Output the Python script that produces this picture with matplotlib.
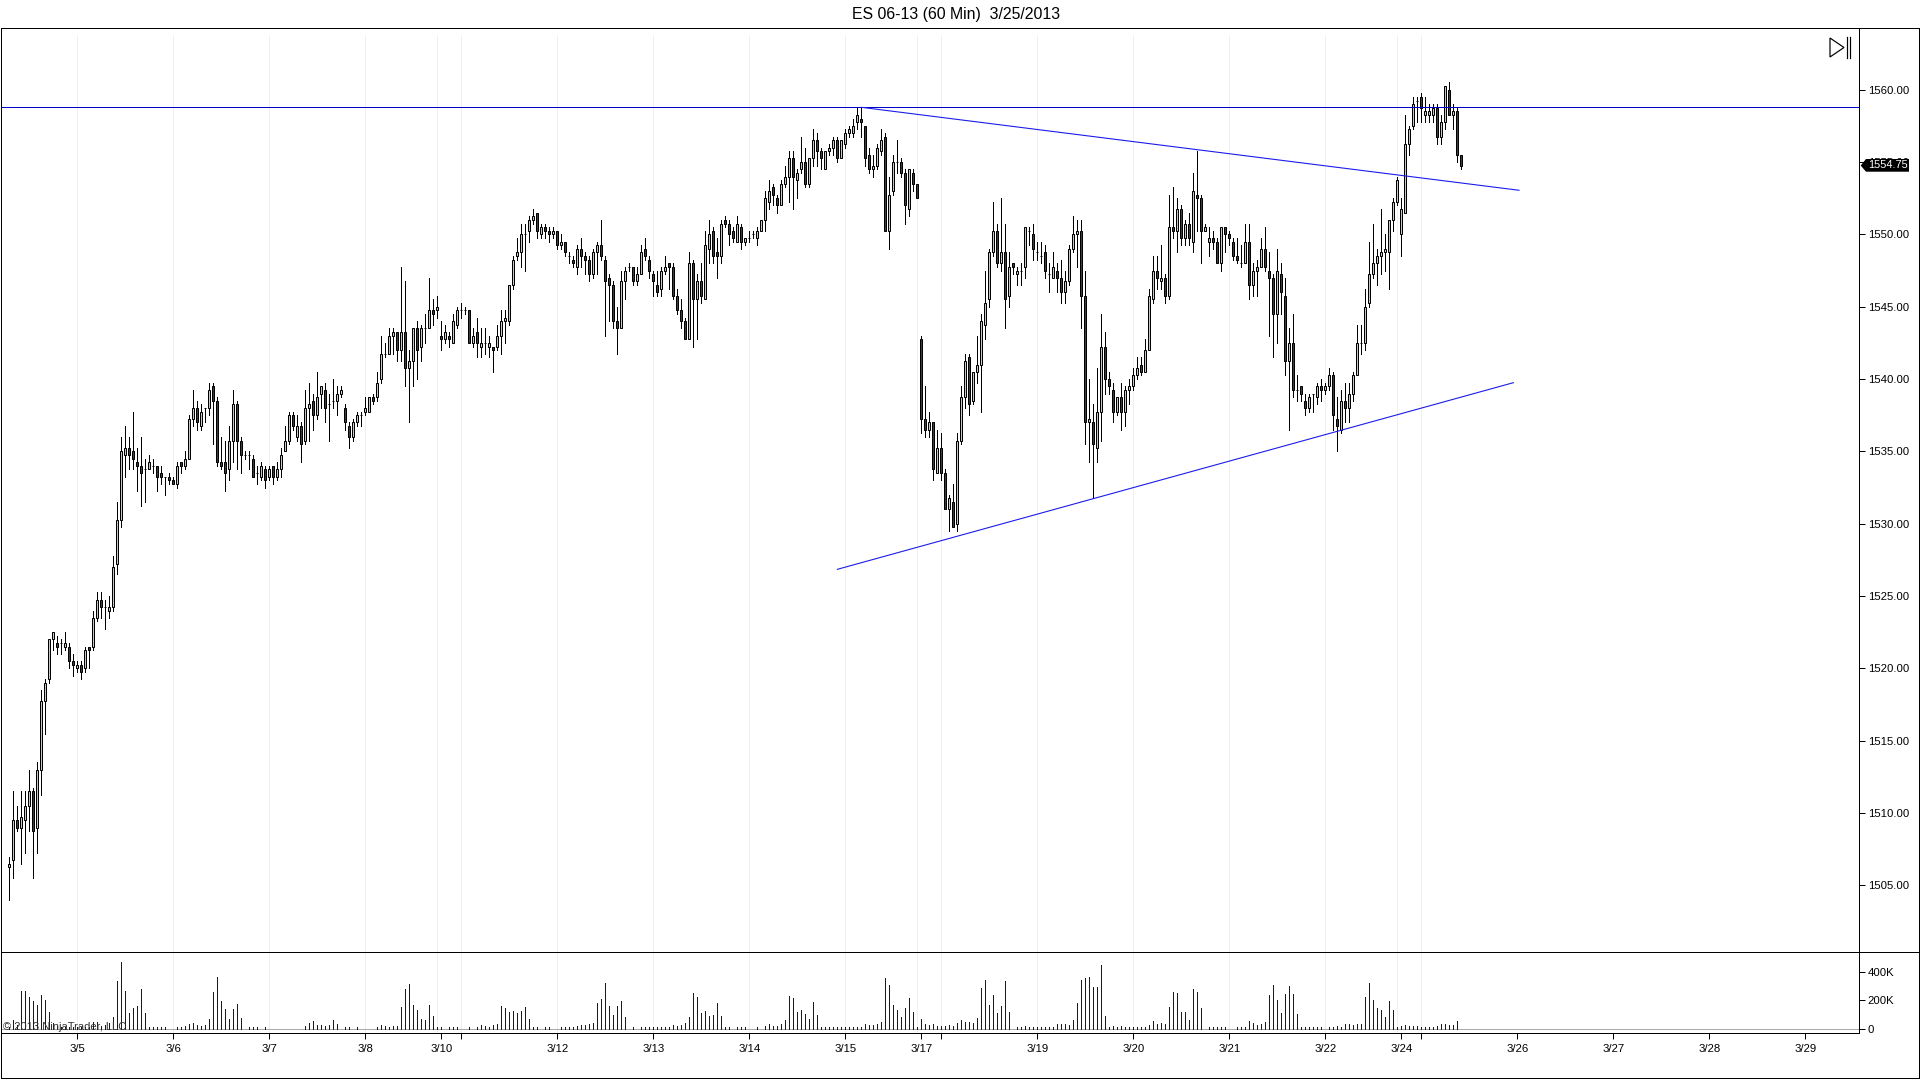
import numpy as np
import matplotlib
matplotlib.use('Agg')
import matplotlib.pyplot as plt
from matplotlib.lines import Line2D
from matplotlib.patches import Polygon

plt.rcParams['font.family'] = ['Liberation Sans', 'DejaVu Sans']

# 60 min bars of ES 06-13 (points)
opens = [
    1506.25,1506.75,1509.5,1509,1509.5,1510.5,1511.5,1509,1513,1517.75,1519.25,1522,
    1521.75,1521.75,1521.5,1521.5,1520.5,1520,1520.25,1520,1521.5,1521.5,1523.5,1524.75,
    1524.25,1524,1524.25,1527.25,1530.25,1534.75,1535.25,1535,1534.25,1534,1533.75,1533.75,
    1534,1534,1533.5,1533.25,1533.25,1533,1532.75,1534.25,1534,1534.5,1537.25,1538,
    1536.75,1538,1538,1539.5,1538.5,1534.25,1534.25,1533.75,1535.75,1538.25,1535.75,1534.75,
    1534.75,1534.5,1533.5,1533.25,1533.75,1533.25,1534,1533.25,1533.75,1535,1535.75,1537.5,
    1536,1536.75,1535.75,1538,1538.5,1537.5,1539,1539.25,1538.25,1538.5,1538.5,1539,
    1538,1536.75,1536,1537,1537.5,1537.75,1537.75,1538.75,1538.75,1540,1541.75,1541.75,
    1543,1543.25,1542,1543.25,1540.75,1541.25,1543.5,1542.25,1543.5,1543.5,1544.75,1544.75,
    1543,1542.75,1543,1542.5,1543.75,1544.75,1544.75,1544.75,1542.5,1543.25,1542.25,1542.5,
    1542.25,1542.25,1542.25,1543,1544,1544,1546.5,1548.5,1548.75,1550,1550.25,1551,
    1551.5,1550,1550.5,1550.25,1550,1550.25,1549.25,1549.5,1548.5,1548.25,1547.75,1549,
    1548.5,1548.25,1547.25,1548.75,1549.25,1548.25,1547,1546.5,1544,1543.5,1546.75,1547.75,
    1547.75,1546.75,1547.25,1549,1548.25,1547.25,1546.5,1546.25,1547.5,1548,1547.75,1545.75,
    1544.75,1544,1542.75,1548,1545.5,1546.75,1545.5,1549,1550.25,1548.75,1548.5,1551,
    1550.75,1550.25,1549.5,1550.5,1549.5,1549.75,1550,1549.75,1550.25,1551,1552.25,1553.25,
    1552.5,1552,1553.5,1554,1555.25,1553.75,1554.5,1555,1553.5,1555.25,1556.5,1555.75,
    1554.5,1555.75,1556,1556.5,1555.25,1556.25,1557,1557,1557.75,1558,1557.5,1555.5,
    1554.5,1554.75,1555.75,1556.75,1550.25,1553,1555,1555,1554.25,1551.75,1554.25,1553.5,
    1542.75,1537.25,1536.5,1537,1533.5,1535.25,1533.5,1531,1531.5,1530,1535.75,1538.75,
    1541.5,1538.5,1540.5,1541,1543.75,1545.5,1548.75,1550.25,1548,1548.75,1545.75,1548,
    1547.25,1547.5,1547.75,1550.25,1550,1548.75,1548.5,1548.75,1547.25,1547,1547.5,1547,
    1546,1546.75,1549,1550,1550.25,1545.75,1537,1537,1535.25,1537.75,1542.25,1540,
    1539.25,1537.75,1538.75,1537.75,1539.25,1539.5,1540.25,1541,1540.5,1542,1545.5,1547.5,
    1546.75,1547,1545.75,1550.5,1550.25,1551.75,1549.75,1550.75,1549.5,1552.75,1552.5,1550.25,
    1549.5,1549.75,1549.5,1548,1550.5,1550,1549.5,1548.5,1548,1548,1549.5,1546.5,
    1547.5,1547.75,1549,1547.5,1547,1544.5,1547.25,1545.75,1541.25,1542.5,1539.25,1539.5,
    1538.5,1538,1539,1538.75,1539.5,1539.25,1539.5,1540.25,1537.25,1536.5,1538.5,1538,
    1539,1540.25,1542.5,1542.5,1545.25,1547.25,1548,1548.5,1548.75,1548.75,1551,1552.25,
    1550,1551.5,1556.25,1557.5,1559.25,1559.5,1558.25,1558.25,1558.25,1558.75,1556.75,1557.75,
    1560,1558.25,1558.5,1555.5]
highs = [
    1507,1511.5,1510.5,1511.5,1511.5,1513,1511.75,1513.5,1518.5,1519.25,1522,1522.5,
    1522.25,1522,1522.5,1521.75,1521,1520.5,1520.5,1521.5,1521.5,1524,1525.25,1525.25,
    1524.75,1525,1527.75,1531.5,1536,1536.75,1536,1537.75,1535.25,1536,1534.5,1534.75,
    1534.5,1534,1534,1533.25,1533.5,1533.25,1534.25,1534.25,1535,1537.5,1539.25,1538.5,
    1538.25,1538,1539.75,1539.75,1538.75,1536,1535.75,1536.75,1539.25,1538.5,1536,1535,
    1535,1534.75,1534,1534.25,1534,1534,1534,1534.25,1535.25,1536.75,1537.75,1537.75,
    1537.5,1537,1539.25,1539.75,1539,1540.5,1539.5,1539.75,1539,1540,1539.5,1539.5,
    1538.25,1537,1537.25,1537.75,1537.75,1538.75,1538.75,1539,1540.5,1543,1542.5,1543.5,
    1543.5,1543.25,1547.75,1546.75,1542,1543.5,1544,1543.75,1544.5,1547,1545.5,1545.75,
    1544,1543.75,1543.25,1544.5,1545,1545.25,1545,1544.75,1543.5,1544.25,1543.5,1543.5,
    1543,1542.25,1543.75,1544.75,1544.75,1546.5,1548.5,1549.75,1550.75,1550.75,1551.25,1551.75,
    1551.5,1550.75,1550.75,1550.5,1550.5,1550.25,1550,1549.5,1548.75,1548.5,1549.25,1549.75,
    1548.75,1548.5,1549,1549.5,1551,1548.5,1547.25,1546.75,1545,1547.5,1547.75,1548,
    1547.75,1547.75,1549.25,1549.75,1548.5,1547.5,1547.5,1547.75,1548.5,1548,1548,1546.25,
    1545.5,1544.25,1548.75,1548.25,1547.25,1548,1550.25,1551,1550.5,1549.75,1551,1551.25,
    1551,1550.5,1551.25,1550.75,1549.75,1550.25,1550.25,1550.5,1551,1553,1553.75,1553.5,
    1552.75,1553.75,1554.75,1555.75,1555.75,1554.5,1556.75,1556,1555.25,1557.25,1557,1556,
    1555.75,1556.25,1556.75,1556.75,1556.5,1557.25,1557.5,1558,1558.75,1558.75,1557.5,1556,
    1555.5,1556.25,1557.25,1557,1554,1555.5,1556.5,1555.25,1554.5,1554.5,1554.5,1553.5,
    1543,1539.5,1537.75,1537,1536.5,1536.25,1533.75,1532,1532.75,1536.25,1539.5,1541.75,
    1541.75,1540.5,1543,1544.5,1547.5,1549,1552.25,1550.75,1552.5,1550.75,1548.75,1548,
    1547.75,1548,1550.5,1550.5,1550.75,1549.5,1549.5,1549.25,1548,1548.75,1548,1548.25,
    1547.5,1549.25,1551.25,1551,1551,1547.5,1540,1538.25,1540.75,1544.5,1543.25,1540.5,
    1539.75,1538.75,1539.75,1539.5,1540,1540.75,1541.5,1541.5,1542.75,1546.25,1548.5,1548.5,
    1549.25,1547.25,1552.75,1553.25,1552.5,1552,1551,1551.5,1554.25,1555.75,1552.75,1550.75,
    1550.5,1550.25,1549.75,1550.5,1550.5,1550.25,1549.75,1549.75,1549.25,1550.75,1550.75,1548,
    1548.25,1549.75,1550.5,1548.75,1547.25,1549,1548,1547,1543.5,1544.5,1540.25,1539.5,
    1539,1539,1539,1539.75,1540,1539.75,1540.75,1540.5,1538.75,1539.25,1539.75,1539.75,
    1540.5,1543.75,1543.75,1546.25,1549.5,1550.75,1549,1551.75,1550,1551,1552.5,1554,
    1552.5,1558.25,1557.5,1559.5,1559.5,1559.75,1559.5,1559,1559,1559,1558.25,1560.25,
    1560.5,1559,1558.75,1555.5]
lows = [
    1504,1505.5,1508.75,1506.5,1507.25,1508.75,1505.5,1507.25,1511.25,1515.5,1519,1521.25,
    1521,1521,1521.25,1520,1519.5,1519.75,1519.25,1519.75,1520,1521.25,1523.25,1523.5,
    1522.75,1523.5,1524,1526.5,1529.75,1533.25,1533.75,1533.75,1532.25,1531.25,1531.5,1533.75,
    1533.5,1532.25,1532.75,1532,1532.75,1532.75,1532.5,1533.5,1533.75,1534.5,1536.75,1536.5,
    1536.5,1537,1537.5,1535.5,1534,1533.75,1532.25,1533,1534.25,1533.75,1533.5,1534.5,
    1533.75,1533.25,1532.75,1533,1532.5,1533,1532.75,1533,1533.25,1535,1535.5,1536.5,
    1535.75,1534.25,1535.5,1535.75,1536.5,1537.25,1538,1537,1535.75,1538,1537.5,1538.75,
    1536.5,1535.25,1535.75,1536.75,1536.75,1537.5,1537.75,1538.25,1538.5,1539.75,1541.5,1541.75,
    1541.75,1541.25,1541.25,1539.5,1537,1539.5,1540,1541.25,1542.5,1543.5,1543.75,1544.25,
    1542,1542.5,1542.25,1542.5,1543.5,1544.25,1544.5,1542.5,1542.25,1541.5,1541.5,1541.75,
    1541.5,1540.5,1542,1541.75,1542.5,1543.75,1546.25,1548.25,1547.75,1547.5,1549.5,1550.75,
    1549.75,1549.75,1549.75,1549.5,1549.75,1549,1549,1548.5,1548,1547.75,1547.25,1547.75,
    1547.25,1546.75,1547,1547.25,1548.25,1543,1544,1543.5,1541.75,1543.5,1545.5,1547.5,
    1546.5,1546.5,1547.25,1548.25,1547,1545.75,1545.75,1545.75,1547.25,1546.25,1545.5,1544.5,
    1543.5,1542.75,1542.75,1542.25,1542.75,1545.25,1545.5,1548,1548,1547,1548,1550.5,
    1549.25,1549.5,1549.5,1549,1549.25,1549.5,1549.75,1549.25,1550.25,1550.25,1551.75,1552,
    1551.5,1552,1553.25,1552.25,1551.75,1552.5,1554.25,1553.25,1553.25,1554.75,1554.75,1554.5,
    1554.5,1555.5,1555.5,1555,1555.25,1556,1556.75,1556.75,1557.25,1556.75,1554.75,1554.25,
    1554,1554.5,1555.5,1550.25,1549,1552.75,1554.25,1554,1550.75,1551.25,1553,1552.5,
    1536.25,1536,1536,1533,1533.5,1533,1531,1529.5,1529.75,1529.5,1535.5,1538,
    1537.5,1538.25,1539.75,1537.75,1542.75,1545,1548.5,1547.75,1547.5,1543.5,1545,1547.25,
    1546.5,1546.5,1547,1549.25,1548.25,1548.25,1548,1547,1546,1547,1546,1545.25,
    1545.25,1546.5,1548.75,1547.75,1543.5,1535.5,1534.25,1531.75,1534.25,1535.75,1539,1539,
    1537,1537.5,1536.5,1536.75,1538.25,1539.25,1540,1540.25,1540.5,1542,1545.25,1546.25,
    1546.25,1545.25,1545.5,1549.75,1548.75,1549.25,1549.25,1549.25,1548.75,1550.25,1548,1550.25,
    1548.5,1549,1548,1547.5,1548.75,1549.25,1548.25,1548,1547.75,1548,1545.5,1545.75,
    1545.75,1547.75,1547.5,1543,1541.5,1542.5,1544.5,1540.25,1536.5,1538.75,1538.5,1538.5,
    1537.5,1537.75,1537.75,1538.25,1538.5,1539,1539.25,1536.5,1535,1536.25,1537,1537,
    1538.5,1540.25,1541.75,1542,1545,1547,1546.5,1547.25,1547.5,1546.25,1550.25,1552,
    1548.5,1551.5,1555.5,1557.25,1557.75,1557.75,1557.75,1557.75,1557.75,1556.25,1556.25,1557.25,
    1558.25,1557.25,1555,1554.5]
closes = [
    1506.5,1509.5,1509,1509.75,1510.5,1511.5,1508.75,1513,1517.75,1519,1522,1522.5,
    1521.5,1521.75,1521.75,1520.5,1520.25,1520.25,1519.75,1521.25,1521.25,1523.5,1524.75,1524.25,
    1524.25,1524.25,1527,1530.25,1535,1535.25,1534.75,1534.5,1534,1533.5,1533.75,1534.25,
    1534,1533.25,1533.25,1533.25,1533,1532.75,1534,1534,1534.5,1537.25,1538,1537,
    1537.75,1538,1539.25,1538.5,1534.25,1534,1533.5,1535.75,1538.25,1535.75,1534.75,1534.75,
    1534.75,1533.25,1533.5,1534,1533,1533.75,1533.25,1533.75,1534.75,1535.75,1537.5,1536.75,
    1536.75,1535.5,1538,1538.25,1537.5,1538.75,1539.5,1538,1538.25,1538.5,1539,1539.25,
    1537,1536,1537,1537.5,1537.5,1538,1538.75,1538.5,1539.75,1541.75,1541.75,1543,
    1543.25,1542,1543.25,1540.75,1541.25,1543.5,1542,1543.5,1543.5,1544.75,1544.5,1545,
    1542.75,1543.25,1542.75,1544,1544.75,1544.75,1544.75,1542.5,1543,1542.5,1542.5,1542.5,
    1542.5,1542,1543,1544,1544.25,1546.5,1548.25,1548.75,1550,1550,1551,1551.25,
    1550.25,1550.5,1550.25,1550,1550.25,1549.25,1549.5,1548.75,1548.5,1548,1549,1548.5,
    1548.25,1547.25,1548.75,1549.25,1548.5,1546.75,1546.5,1544,1543.5,1546.75,1547.5,1547.75,
    1546.75,1547.25,1548.75,1548.5,1547.5,1546.75,1546,1547.5,1547.75,1547.75,1545.75,1544.75,
    1544,1542.75,1548,1545.5,1546.75,1545.75,1549.25,1550,1548.5,1548.5,1550.75,1550.75,
    1550,1549.75,1550.75,1549.5,1549.75,1549.75,1550,1550.25,1551,1552.5,1553,1552.75,
    1552,1553.5,1554,1555.25,1554,1554.25,1555,1553.5,1555.25,1556.5,1555.75,1555.25,
    1555.75,1556,1556.5,1555.25,1556.5,1557,1557.25,1557.5,1558.25,1557.75,1555.25,1554.5,
    1554.75,1556,1556.5,1550.25,1552.75,1555,1555,1554.25,1552,1554.5,1553.5,1552.5,
    1537.25,1536.5,1537,1533.75,1535.25,1533.5,1531,1531.75,1529.75,1535.75,1538.75,1541.25,
    1538.25,1540.5,1541,1544,1545.25,1548.75,1550.25,1548,1548.75,1545.5,1547.75,1547.75,
    1547.5,1547.5,1550.5,1550.25,1549,1548.75,1548.5,1547.5,1547.25,1547.75,1547,1546,
    1546.75,1549,1550,1550.25,1545.75,1537,1537.25,1535.5,1537.75,1542.25,1540,1539.5,
    1537.75,1538.75,1537.75,1539.25,1539.5,1540.25,1540.75,1540.5,1542,1545.75,1547.5,1547,
    1547,1545.75,1550.5,1550.25,1551.75,1549.75,1550.75,1549.75,1553,1552.5,1550.25,1550.5,
    1549.75,1549.5,1548,1550.5,1550,1549.75,1548.5,1548.25,1548,1549.5,1546.5,1547.5,
    1547.75,1549,1547.75,1547,1544.5,1547.5,1546,1541.25,1542.5,1539.25,1539.25,1539,
    1538,1538.75,1539,1539.5,1539.25,1539.5,1540.25,1537.5,1536.75,1538.5,1538,1539,
    1540.25,1542.5,1542.5,1545,1547.25,1548,1548.5,1548.75,1549,1551,1552.25,1553.75,
    1551.75,1556.25,1557.25,1559,1559.25,1558.75,1558.5,1558.5,1558.75,1556.75,1557.75,1560.25,
    1558.25,1558.5,1555.5,1554.75]
# Volume per bar, in thousands of contracts
volumes = [
    12,60,26,263,263,221,193,165,235,200,116,37,
    19,12,12,12,12,12,12,12,12,47,47,19,
    26,37,81,333,472,263,109,144,158,277,109,12,
    12,12,12,12,0,0,12,12,19,33,40,26,
    19,26,67,256,367,193,137,67,137,172,74,0,
    12,12,12,0,12,0,0,0,0,0,0,0,
    0,0,19,40,53,26,26,19,26,60,33,0,
    12,12,0,12,0,0,0,0,12,26,19,12,
    19,19,151,277,312,165,130,67,60,165,88,12,
    12,0,12,12,12,0,0,12,0,12,26,19,
    12,26,33,158,144,116,123,109,123,151,67,12,
    12,0,12,12,0,0,12,12,12,12,19,26,
    26,33,40,179,207,319,158,95,158,193,81,0,
    12,0,12,12,12,12,12,12,12,12,26,19,
    26,40,81,249,221,109,123,88,95,179,88,12,
    12,0,12,12,12,0,0,12,0,19,33,19,
    19,33,60,228,214,116,130,102,67,186,95,12,
    12,12,12,12,12,12,12,12,12,12,33,26,
    26,33,47,360,305,165,130,81,144,214,116,12,
    67,33,26,33,19,19,19,26,19,40,60,47,
    47,40,74,284,340,165,235,109,158,333,116,0,
    12,12,19,12,12,12,12,12,12,12,33,33,
    33,26,60,179,347,360,367,291,291,451,88,12,
    19,12,19,12,12,12,12,12,12,26,53,33,
    40,33,151,256,249,116,116,60,277,256,144,0,
    12,12,12,12,12,0,0,12,12,12,53,40,
    26,33,47,235,305,200,109,242,298,242,102,12,
    12,12,12,12,12,0,12,12,19,12,33,33,
    26,33,33,221,319,200,144,130,81,193,130,12,
    19,26,19,19,19,12,12,12,12,19,33,33,
    26,26,53,0]

# Date labels by bar number (blank one is the Monday tick with no label)
date_bars = [17, 41, 65, 89, 108, 113, 137, 161, 185, 209, 228, 233, 257, 281, 305, 329, 348, 353, 377, 401, 425, 449]
date_labels = ['3/5', '3/6', '3/7', '3/8', '3/10', '', '3/12', '3/13', '3/14', '3/15', '3/17', '',
               '3/19', '3/20', '3/21', '3/22', '3/24', '', '3/26', '3/27', '3/28', '3/29']
grid_bars = [17, 41, 65, 89, 107, 113, 137, 161, 185, 209, 227, 233, 257, 281, 305, 329, 347, 353]
price_ticks = [1505, 1510, 1515, 1520, 1525, 1530, 1535, 1540, 1545, 1550, 1555, 1560]
vol_ticks = [0, 200, 400]
vol_tick_labels = ['0', '200K', '400K']

# Drawn lines: resistance level and the two trend lines
level_price = 1558.78
upper_bars, upper_prices = [213.1, 377.4], [1558.78, 1553.05]
lower_bars, lower_prices = [207, 376], [1526.85, 1539.75]
last_price = 1554.75

W, H = 1920, 1079
PX = 0.72  # one pixel in points at dpi 100


def box(left, top, right, bottom):
    return [left / W, 1 - bottom / H, (right - left) / W, (bottom - top) / H]


def fx(x):
    return x / W


def fy(y):
    return 1 - y / H


fig = plt.figure(figsize=(W / 100, H / 100), dpi=100, facecolor='w')
ax = fig.add_axes(box(1, 27.5, 1859, 952))
ax_vol = fig.add_axes(box(1, 952, 1859, 1033), sharex=ax)

bars = np.arange(len(closes))
o, h, l, c = map(np.array, (opens, highs, lows, closes))
up = c >= o

# Faint date lines stop a little under the top frame and after the last bar
for b in grid_bars:
    ax.axvline(b, ymax=(952 - 35) / 924.5, color='#f0f0f0', lw=PX, zorder=0)
    ax_vol.axvline(b, color='#f0f0f0', lw=PX, zorder=0)

# Candles
ax.vlines(bars, l, h, color='k', lw=PX, zorder=2, antialiased=False)
ax.bar(bars[up], (c - o)[up], bottom=o[up], width=0.5, color='#90ee90', edgecolor='k', lw=PX, zorder=3)
ax.bar(bars[~up], (c - o)[~up], bottom=o[~up], width=0.5, color='#cc0000', edgecolor='k', lw=PX, zorder=3)

ax.axhline(level_price, color='#0000cc', lw=PX, zorder=4)
ax.plot(upper_bars, upper_prices, color='#1a1aee', lw=PX * 1.1, zorder=4)
ax.plot(lower_bars, lower_prices, color='#1a1aee', lw=PX * 1.1, zorder=4)

ax.set_xlim(-2.08, 462.4)
ax.set_ylim(1500.4, 1564.3)
ax.yaxis.tick_right()
ax.set_yticks(price_ticks)
ax.set_yticklabels(['%.2f' % p for p in price_ticks], fontsize=8.2)
ax.tick_params(axis='y', length=4.3, width=PX, pad=2)
ax.tick_params(axis='x', length=0, labelbottom=False)

# Volume panel
ax_vol.axhline(0, color='#aaaaaa', lw=PX, zorder=1)
ax_vol.vlines(bars, 0, volumes, color='#0000e0', lw=PX, zorder=2, antialiased=False)
ax_vol.set_ylim(-30.3, 541)
ax_vol.yaxis.tick_right()
ax_vol.set_yticks(vol_ticks)
ax_vol.set_yticklabels(vol_tick_labels, fontsize=8.2)
ax_vol.tick_params(axis='y', length=4.3, width=PX, pad=2)
ax_vol.set_xticks(date_bars)
ax_vol.set_xticklabels(date_labels, fontsize=8.2)
ax_vol.tick_params(axis='x', length=4.3, width=PX, pad=3.5)

for a in (ax, ax_vol):
    for spine in a.spines.values():
        spine.set_linewidth(PX)

# Outer frame around the axis strip and the date strip
for xs, ys in [((0.5, 1918.5), (27.5, 27.5)), ((1859, 1918.5), (952, 952)),
               ((0.5, 1918.5), (1078, 1078)), ((0.5, 0.5), (27.5, 1078)),
               ((1918.5, 1918.5), (27.5, 1078))]:
    fig.add_artist(Line2D([fx(x) for x in xs], [fy(y) for y in ys], color='k', lw=PX))

fig.text(fx(956.5), fy(14), 'ES 06-13 (60 Min)  3/25/2013', ha='center', va='center', fontsize=11.4)
fig.text(fx(3), fy(1027), '\u00a9 2013 NinjaTrader, LLC', ha='left', va='center', fontsize=8, color='#333333')

# Last price tag
tag = [(1860.7, 165.5), (1866, 159), (1909, 159), (1909, 171.7), (1866, 171.7)]
fig.add_artist(Polygon([(fx(x), fy(y)) for x, y in tag], closed=True, color='k', lw=0))
fig.text(fx(1868), fy(165.3), '%.2f' % last_price, ha='left', va='center', fontsize=7.9, color='w')

# Skip-to-end button, top right
icon = [(1830, 38), (1830, 57), (1844, 47.5)]
fig.add_artist(Polygon([(fx(x), fy(y)) for x, y in icon], closed=True, fc='w', ec='k', lw=PX * 1.2))
for x in (1847, 1850):
    fig.add_artist(Line2D([fx(x), fx(x)], [fy(37), fy(58)], color='k', lw=PX * 1.2))

fig.savefig('out.png', dpi=100)
